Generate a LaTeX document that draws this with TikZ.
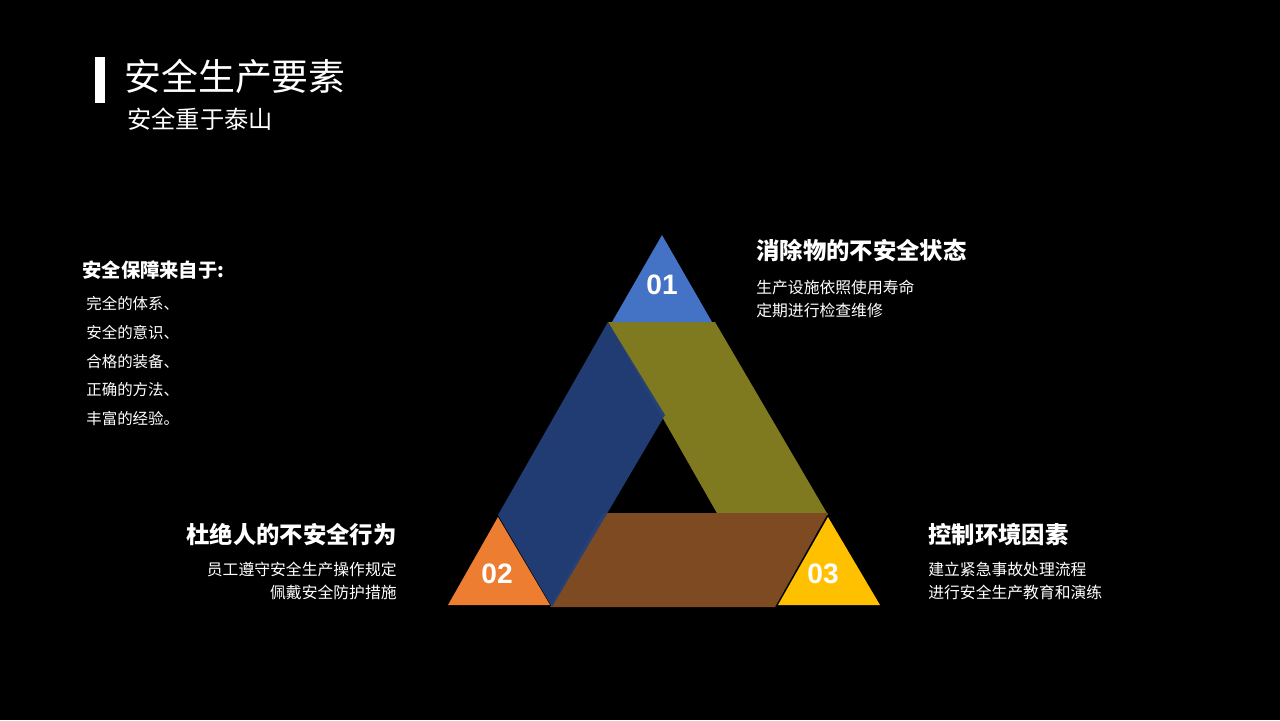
\documentclass[tikz,border=0pt]{standalone}
\usepackage{fontspec}
\setmainfont{Noto Sans CJK SC}
\newfontfamily\numfont{Liberation Sans}
\definecolor{cblue}{RGB}{68,114,196}
\definecolor{corange}{RGB}{237,125,49}
\definecolor{cyellow}{RGB}{255,192,0}
\definecolor{bblue}{RGB}{35,64,122}
\definecolor{bolive}{RGB}{127,122,32}
\definecolor{bbrown}{RGB}{125,74,34}
\begin{document}
\begin{tikzpicture}[x=0.02cm,y=-0.02cm,
  txt/.style={text=white,inner sep=0pt},
  num/.style={text=white,font=\numfont\bfseries\fontsize{16}{18}\selectfont,inner sep=0pt}]
\fill[black] (0,0) rectangle (1280,720);
\useasboundingbox (0,0) rectangle (1280,720);
% title
\fill[white] (95,57) rectangle (105,103);
\node[txt,anchor=west,font=\fontsize{21}{24}\selectfont] (title) at (124,76) {安全生产要素};
\node[txt,anchor=west,font=\fontsize{13.8}{16}\selectfont] (sub) at (127,119) {安全重于泰山};
% bands
\fill[bolive] (608,322) -- (715,322) -- (828,515) -- (718,515) -- cycle;
\fill[bbrown] (603,513) -- (828,513) -- (775,607) -- (550,607) -- cycle;
\fill[bblue,opacity=0.95] (608,322) -- (665,415) -- (552,607) -- (498,515) -- cycle;
% corner triangles
\fill[cblue] (662,235) -- (712,322) -- (612,322) -- cycle;
\fill[corange] (498,517) -- (550,605) -- (448,605) -- cycle;
\fill[cyellow] (828,517) -- (880,605) -- (778,605) -- cycle;
\node[num] (n1) at (662,285) {01};
\node[num] (n2) at (497,574) {02};
\node[num] (n3) at (823,574) {03};
% left list
\node[txt,anchor=west,font=\bfseries\fontsize{11}{13}\selectfont] (lh) at (82,270) {安全保障来自于:};
\node[txt,anchor=north west,align=left,font=\fontsize{8.8}{16.4}\selectfont] (ll) at (86,296) {完全的体系、\\安全的意识、\\合格的装备、\\正确的方法、\\丰富的经验。};
% right top
\node[txt,anchor=west,font=\bfseries\fontsize{13.3}{15}\selectfont] (h1) at (756,251) {消除物的不安全状态};
\node[txt,anchor=north west,align=left,font=\fontsize{9}{13}\selectfont] (t1) at (756,280) {生产设施依照使用寿命\\定期进行检查维修};
% left bottom
\node[txt,anchor=east,font=\bfseries\fontsize{13.3}{15}\selectfont] (h2) at (397,535) {杜绝人的不安全行为};
\node[txt,anchor=north east,align=right,font=\fontsize{9}{13}\selectfont] (t2) at (397,562) {员工遵守安全生产操作规定\\佩戴安全防护措施};
% right bottom
\node[txt,anchor=west,font=\bfseries\fontsize{13.3}{15}\selectfont] (h3) at (928,535) {控制环境因素};
\node[txt,anchor=north west,align=left,font=\fontsize{9}{13}\selectfont] (t3) at (928,562) {建立紧急事故处理流程\\进行安全生产教育和演练};
\end{tikzpicture}
\end{document}
